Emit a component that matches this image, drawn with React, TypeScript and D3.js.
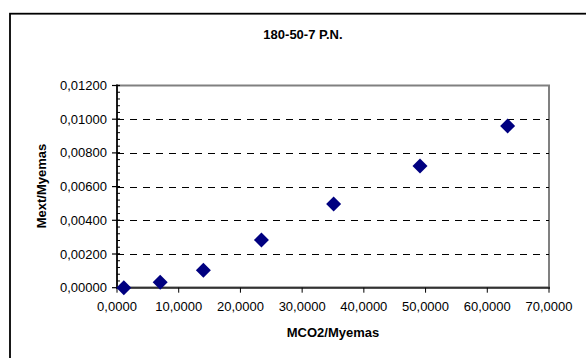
import { useEffect, useRef } from "react"
import * as d3 from "d3"

const title = "180-50-7 P.N."
const xTitle = "MCO2/Myemas"
const yTitle = "Mext/Myemas"

const xValues = [1.1, 7.0, 14.0, 23.4, 35.1, 49.1, 63.3]
const yValues = [0.0, 0.00032, 0.00103, 0.00283, 0.00497, 0.00722, 0.0096]

const xTicks = [0, 10, 20, 30, 40, 50, 60, 70]
const yTicks = [0, 0.002, 0.004, 0.006, 0.008, 0.01, 0.012]
const yMinorTicks = d3.range(0, 0.01201, 0.0004)

const fmtX = (v: number) => v.toFixed(4).replace(".", ",")
const fmtY = (v: number) => v.toFixed(5).replace(".", ",")

export default function App() {
  const svgRef = useRef<SVGSVGElement>(null)

  useEffect(() => {
    if (!svgRef.current) return

    const width = 586
    const height = 358
    const plot = { left: 117, right: 549, top: 85.5, bottom: 287.7 }
    const font = "'Liberation Sans', Arial, sans-serif"

    d3.select(svgRef.current).selectAll("*").remove()

    const svg = d3
      .select(svgRef.current)
      .attr("width", width)
      .attr("height", height)
      .style("position", "absolute")
      .style("left", 0)
      .style("top", 0)

    svg.append("rect").attr("width", width).attr("height", height).attr("fill", "#fff")

    // Outer chart border
    svg
      .append("rect")
      .attr("x", 10)
      .attr("y", 13.7)
      .attr("width", 700)
      .attr("height", 500)
      .attr("fill", "none")
      .attr("stroke", "#000")
      .attr("stroke-width", 1.8)

    const x = d3.scaleLinear().domain([0, 70]).range([plot.left, plot.right])
    const y = d3.scaleLinear().domain([0, 0.012]).range([plot.bottom, plot.top])

    // Title
    svg
      .append("text")
      .attr("x", 303)
      .attr("y", 38.5)
      .attr("text-anchor", "middle")
      .attr("font-family", font)
      .attr("font-weight", "bold")
      .attr("font-size", 13)
      .text(title)

    // Plot area border (grey)
    svg
      .append("rect")
      .attr("x", plot.left)
      .attr("y", plot.top)
      .attr("width", plot.right - plot.left)
      .attr("height", plot.bottom - plot.top)
      .attr("fill", "none")
      .attr("stroke", "#808080")
      .attr("stroke-width", 2)

    // Dashed gridlines
    svg
      .append("g")
      .selectAll("line")
      .data(yTicks.filter((d) => d > 0 && d < 0.012))
      .join("line")
      .attr("x1", plot.left)
      .attr("x2", plot.right)
      .attr("y1", (d) => Math.round(y(d)) + 0.5)
      .attr("y2", (d) => Math.round(y(d)) + 0.5)
      .attr("stroke", "#000")
      .attr("stroke-width", 1)
      .attr("stroke-dasharray", "7,6")

    // Y axis
    const yAxis = svg.append("g")
    yAxis
      .append("line")
      .attr("x1", plot.left)
      .attr("x2", plot.left)
      .attr("y1", plot.top - 1)
      .attr("y2", plot.bottom + 1)
      .attr("stroke", "#000")
      .attr("stroke-width", 1.6)
    yAxis
      .selectAll("line.minor")
      .data(yMinorTicks)
      .join("line")
      .attr("class", "minor")
      .attr("x1", plot.left)
      .attr("x2", plot.left + 3)
      .attr("y1", (d) => y(d))
      .attr("y2", (d) => y(d))
      .attr("stroke", "#000")
      .attr("stroke-width", 1)
    yAxis
      .selectAll("line.major")
      .data(yTicks)
      .join("line")
      .attr("class", "major")
      .attr("x1", plot.left - 5)
      .attr("x2", plot.left + 3)
      .attr("y1", (d) => y(d))
      .attr("y2", (d) => y(d))
      .attr("stroke", "#000")
      .attr("stroke-width", 1.2)
    yAxis
      .selectAll("text")
      .data(yTicks)
      .join("text")
      .attr("x", 107)
      .attr("y", (d) => y(d))
      .attr("dy", "0.35em")
      .attr("text-anchor", "end")
      .attr("font-family", font)
      .attr("font-size", 13)
      .text((d) => fmtY(d))

    // X axis
    const xAxis = svg.append("g")
    xAxis
      .append("line")
      .attr("x1", plot.left)
      .attr("x2", plot.right + 1)
      .attr("y1", plot.bottom)
      .attr("y2", plot.bottom)
      .attr("stroke", "#333")
      .attr("stroke-width", 2)
    xAxis
      .selectAll("line.tick")
      .data(xTicks)
      .join("line")
      .attr("class", "tick")
      .attr("x1", (d) => x(d))
      .attr("x2", (d) => x(d))
      .attr("y1", plot.bottom)
      .attr("y2", plot.bottom + 5)
      .attr("stroke", "#000")
      .attr("stroke-width", 1)
    xAxis
      .selectAll("text")
      .data(xTicks)
      .join("text")
      .attr("x", (d) => x(d))
      .attr("y", 310.5)
      .attr("text-anchor", "middle")
      .attr("font-family", font)
      .attr("font-size", 13)
      .text((d) => fmtX(d))

    // Axis titles
    svg
      .append("text")
      .attr("x", 333)
      .attr("y", 336.5)
      .attr("text-anchor", "middle")
      .attr("font-family", font)
      .attr("font-weight", "bold")
      .attr("font-size", 13)
      .text(xTitle)

    svg
      .append("text")
      .attr("transform", "translate(46,186) rotate(-90)")
      .attr("text-anchor", "middle")
      .attr("font-family", font)
      .attr("font-weight", "bold")
      .attr("font-size", 13)
      .text(yTitle)

    // Diamond markers
    const r = 7.5
    svg
      .append("g")
      .selectAll("path")
      .data(xValues.map((v, i) => [v, yValues[i]]))
      .join("path")
      .attr("d", (d) => {
        const cx = x(d[0])
        const cy = y(d[1])
        return `M${cx},${cy - r}L${cx + r},${cy}L${cx},${cy + r}L${cx - r},${cy}Z`
      })
      .attr("fill", "#000080")
  }, [])

  return <svg ref={svgRef} />
}
